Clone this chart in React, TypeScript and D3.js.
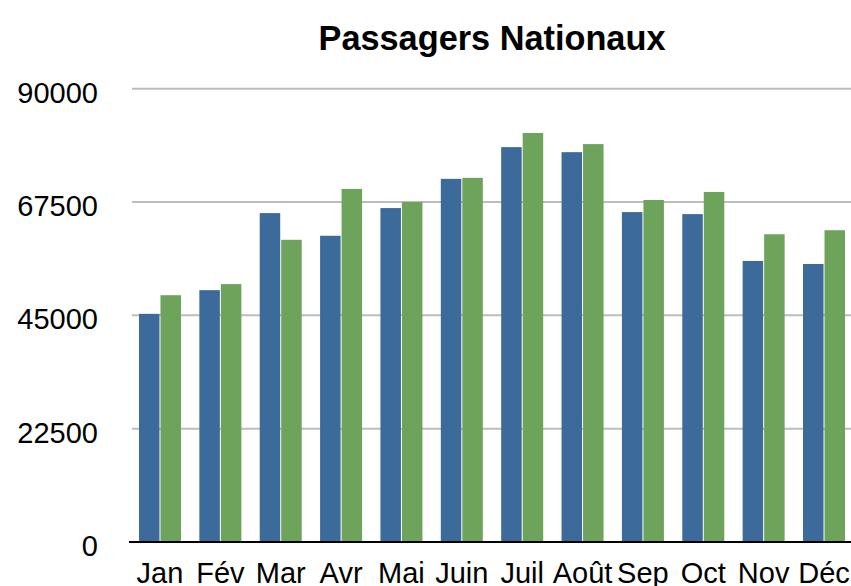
import React from "react";
import * as d3 from "d3";

const months = ["Jan", "Fév", "Mar", "Avr", "Mai", "Juin", "Juil", "Août", "Sep", "Oct", "Nov", "Déc"];
const series1 = [45300, 50000, 65300, 60800, 66300, 72100, 78400, 77400, 65500, 65100, 55800, 55200];
const series2 = [49000, 51200, 60000, 70100, 67500, 72300, 81200, 79000, 67900, 69500, 61100, 61900];
const yTicks = [0, 22500, 45000, 67500, 90000];
const title = "Passagers Nationaux";

const W = 851;
const H = 586;
const FONT = "'Liberation Sans', Arial, Helvetica, sans-serif";

export default function App() {
  const x = d3.scaleBand<string>().domain(months).range([129.8, 854.2]).padding(0);
  const y = d3.scaleLinear().domain([0, 90000]).range([542, 88.7]);
  const barW = 20.5;
  const gap = 1;

  return (
    <svg width={W} height={H} style={{ position: "absolute", left: 0, top: 0, background: "#fff" }}>
      <text x={492} y={50} textAnchor="middle" fontFamily={FONT} fontWeight="bold" fontSize={34.3} fill="#000">
        {title}
      </text>
      {yTicks.map((t) => (
        <g key={t}>
          {t !== 0 && <line x1={132} x2={W} y1={y(t)} y2={y(t)} stroke="#bdbdbd" strokeWidth={2} />}
          <text x={98} y={y(t) + 14} textAnchor="end" fontFamily={FONT} fontSize={29} fill="#000">
            {t}
          </text>
        </g>
      ))}
      {months.map((m, i) => {
        const c = (x(m) as number) + x.bandwidth() / 2;
        return (
          <g key={m}>
            <rect x={c - gap / 2 - barW} y={y(series1[i])} width={barW} height={y(0) - y(series1[i])} fill="#3c6a9b" />
            <rect x={c + gap / 2} y={y(series2[i])} width={barW} height={y(0) - y(series2[i])} fill="#6da35a" />
            <text x={c} y={583} textAnchor="middle" fontFamily={FONT} fontSize={29} fill="#000">
              {m}
            </text>
          </g>
        );
      })}
      <line x1={129} x2={W} y1={y(0)} y2={y(0)} stroke="#000" strokeWidth={2} />
    </svg>
  );
}
